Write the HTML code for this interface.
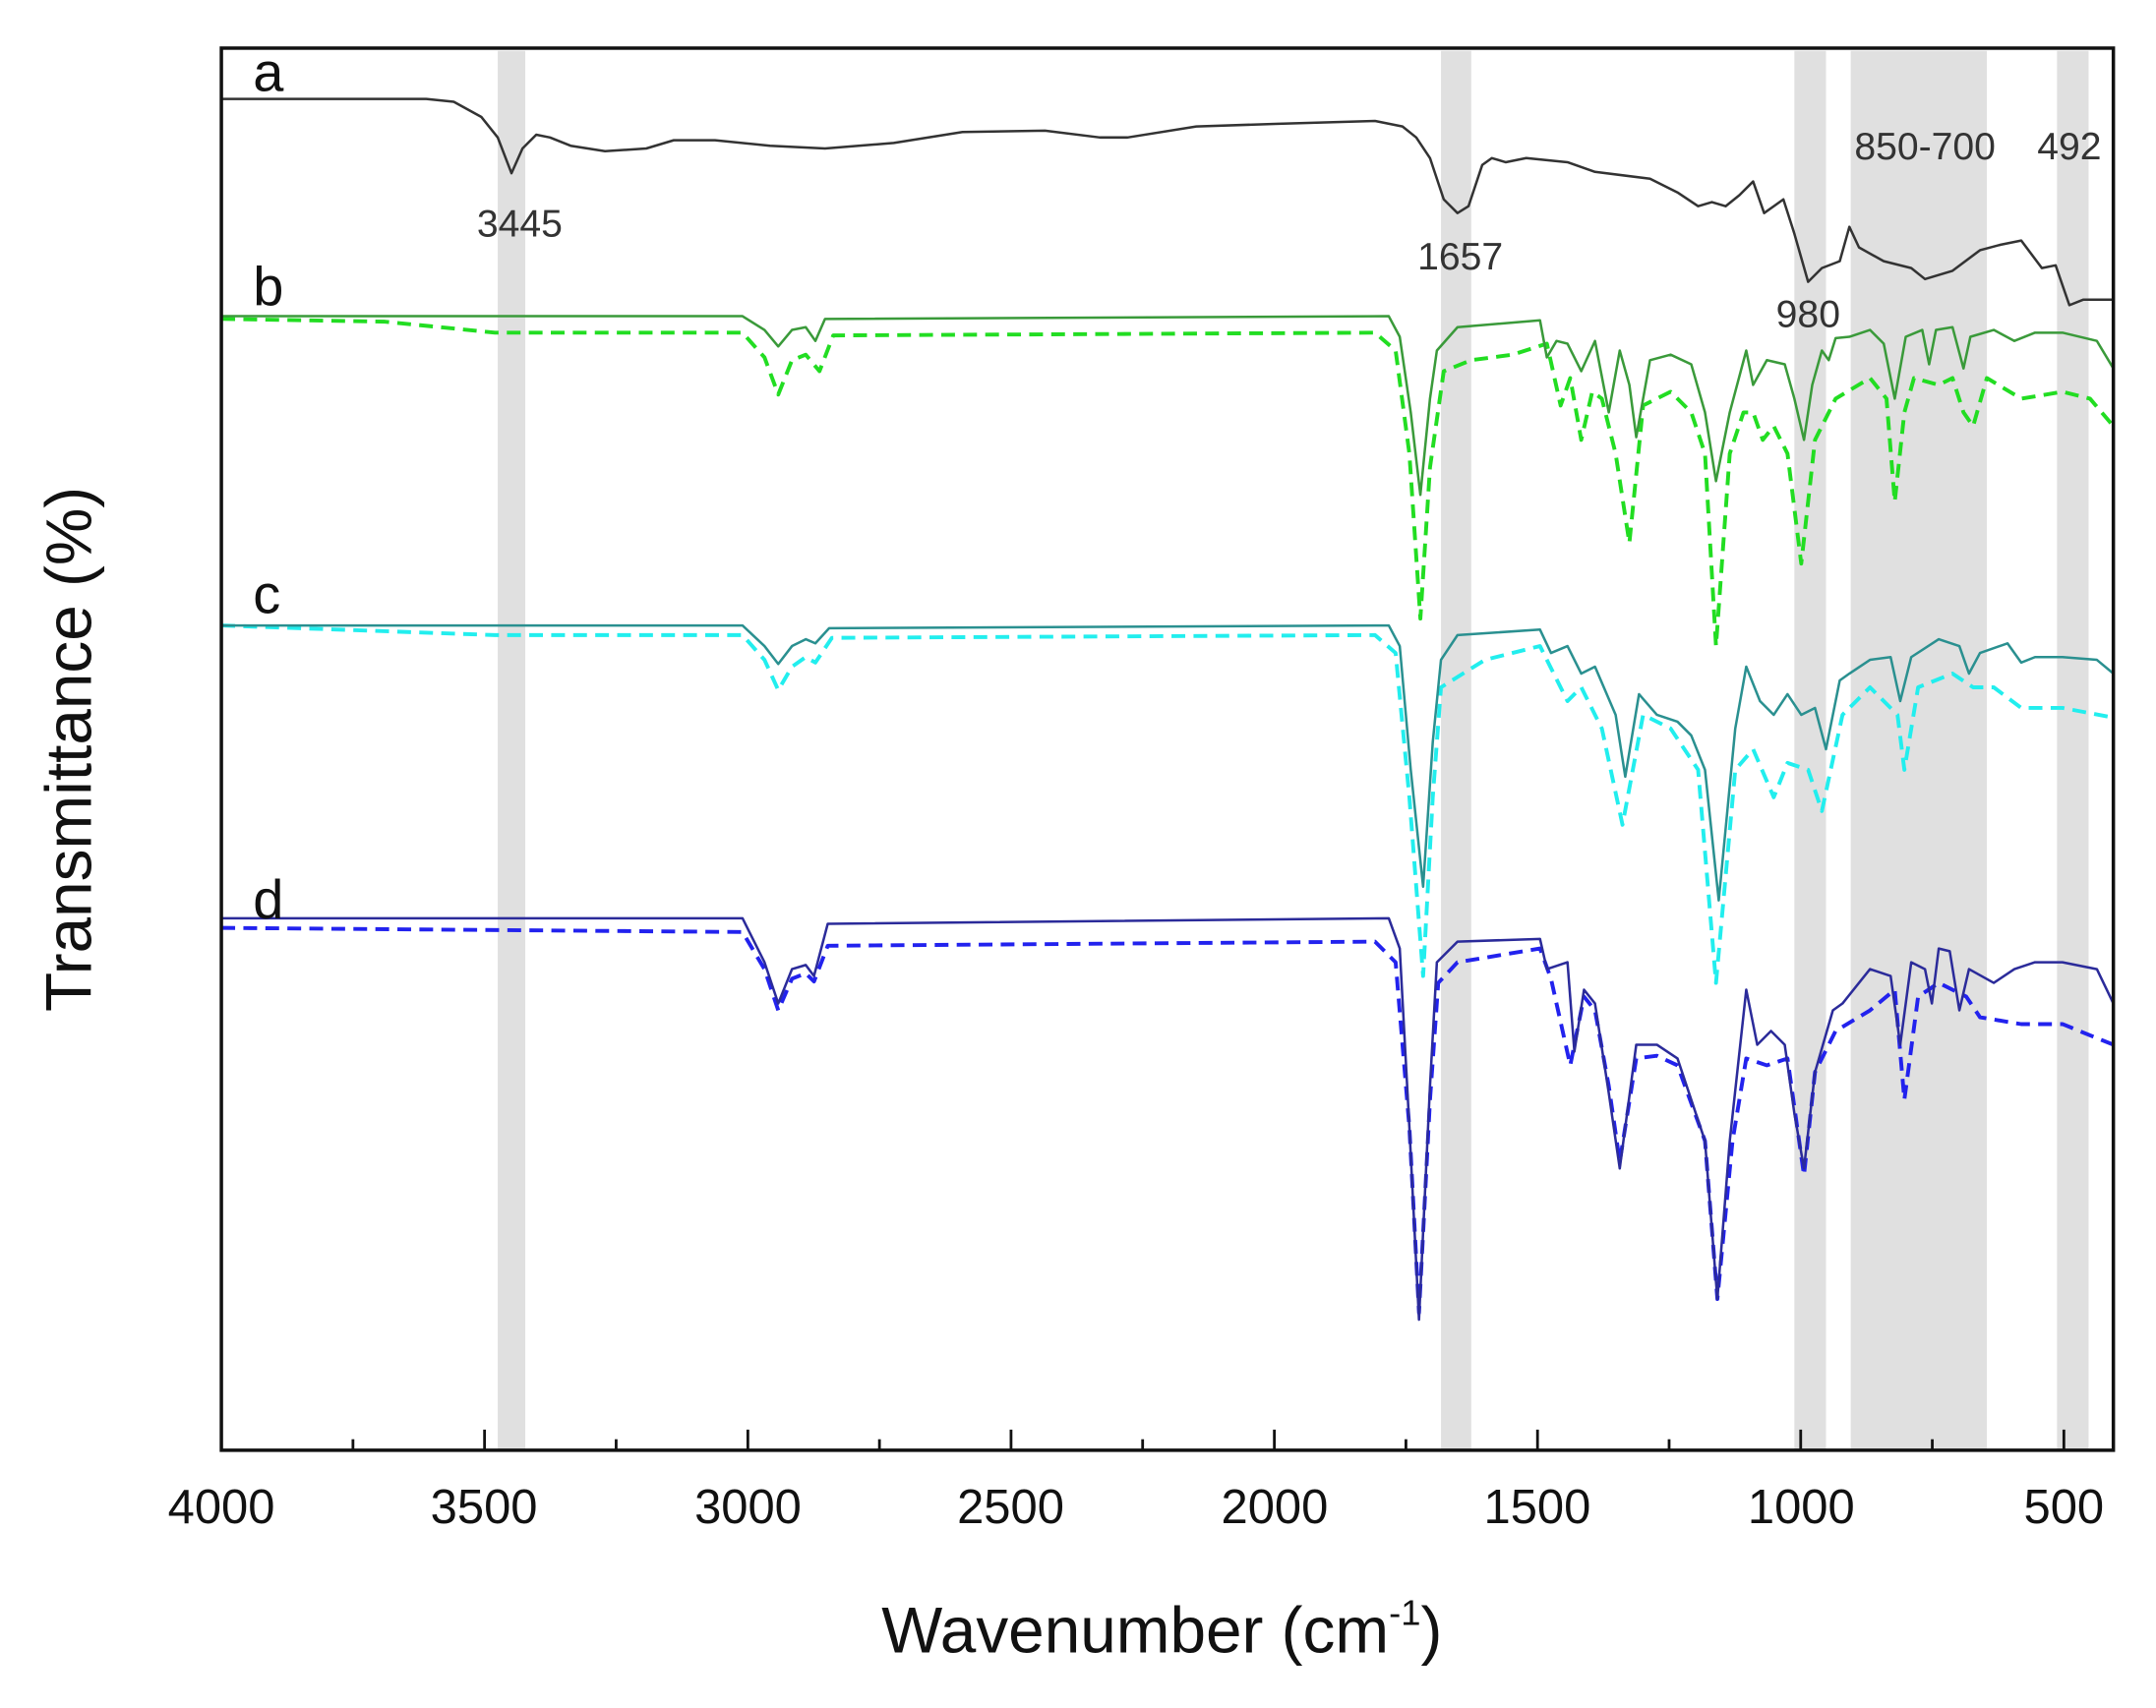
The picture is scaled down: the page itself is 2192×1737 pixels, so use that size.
<!DOCTYPE html>
<html><head><meta charset="utf-8"><style>html,body{margin:0;padding:0;background:#fff}svg{display:block}</style></head>
<body>
<svg width="2192" height="1737" viewBox="0 0 1568 1242.5" xmlns="http://www.w3.org/2000/svg" font-family="Liberation Sans, sans-serif">
<rect width="1570" height="1245" fill="#fff"/>
<g fill="#e0e0e0">
<rect x="362" y="37" width="20" height="1017"/>
<rect x="1048" y="37" width="22" height="1017"/>
<rect x="1305" y="37" width="23" height="1017"/>
<rect x="1346" y="37" width="99" height="1017"/>
<rect x="1496" y="37" width="23" height="1017"/>
</g>
<g fill="none" stroke-linejoin="round">
<polyline stroke="#333" stroke-width="1.8" points="161,72 310,72 330,74 350,85 362,100 372,126 380,108 390,98 400,100 415,106 440,110 470,108 490,102 520,102 560,106 600,108 650,104 700,96 760,95 800,100 820,100 870,92 930,90 1000,88 1020,92 1030,100 1040,115 1050,145 1060,155 1068,150 1078,120 1085,115 1095,118 1110,115 1140,118 1160,125 1200,130 1220,140 1235,150 1245,147 1255,150 1265,142 1275,132 1283,155 1290,150 1297,145 1305,170 1315,205 1325,195 1338,190 1345,165 1352,180 1370,190 1390,195 1400,203 1420,197 1440,182 1455,178 1470,175 1485,195 1495,193 1505,222 1515,218 1537,218"/>
<polyline stroke="#22dd22" stroke-width="2.8" stroke-dasharray="10,6" points="161,232 280,234 360,242 540,242 556,260 566,287 576,262 586,258 596,270 606,244 1000,242 1015,255 1025,330 1033,450 1040,340 1050,270 1070,262 1100,258 1125,250 1135,295 1142,275 1150,320 1158,285 1165,290 1175,330 1185,395 1195,295 1205,290 1215,285 1230,300 1240,330 1248,470 1258,330 1268,300 1275,300 1282,320 1290,310 1300,330 1310,410 1320,320 1335,290 1360,275 1372,290 1378,365 1385,300 1392,275 1410,280 1420,275 1428,300 1435,310 1445,275 1470,290 1500,285 1520,290 1537,310"/>
<polyline stroke="#3a9a3a" stroke-width="1.8" points="161,230 540,230 556,240 566,252 576,240 586,238 593,248 600,232 1010,230 1018,245 1026,300 1033,360 1040,290 1045,255 1060,238 1120,233 1125,260 1132,248 1140,250 1150,270 1160,248 1170,300 1178,255 1185,280 1190,318 1200,262 1215,258 1230,265 1240,300 1248,350 1258,300 1270,255 1275,280 1285,262 1298,265 1305,290 1312,320 1318,280 1325,255 1330,262 1335,246 1345,245 1360,240 1370,250 1378,290 1386,245 1398,240 1403,265 1408,240 1420,238 1428,268 1433,245 1450,240 1465,248 1480,242 1500,242 1525,248 1537,268"/>
<polyline stroke="#22eeee" stroke-width="2.8" stroke-dasharray="10,6" points="161,455 360,462 540,462 556,480 566,502 576,485 586,478 593,482 605,464 1000,462 1015,475 1025,580 1035,710 1042,580 1048,500 1080,480 1120,470 1130,490 1140,510 1150,500 1165,530 1180,600 1195,520 1215,530 1235,560 1248,715 1262,560 1275,545 1290,580 1300,555 1315,560 1325,590 1340,520 1360,500 1380,520 1385,560 1395,500 1420,490 1435,500 1450,500 1470,515 1500,515 1537,522"/>
<polyline stroke="#2a9090" stroke-width="1.8" points="161,455 540,455 556,470 566,483 576,470 586,465 593,468 603,457 1010,455 1018,470 1026,560 1035,645 1042,540 1048,480 1060,462 1120,458 1128,475 1140,470 1150,490 1160,485 1175,520 1182,565 1192,505 1205,520 1220,525 1230,535 1240,560 1250,655 1262,530 1270,485 1280,510 1290,520 1300,505 1310,520 1320,515 1328,545 1338,495 1345,490 1360,480 1375,478 1382,510 1390,478 1410,465 1425,470 1432,490 1440,475 1460,468 1470,482 1480,478 1500,478 1525,480 1537,490"/>
<polyline stroke="#2222ee" stroke-width="2.8" stroke-dasharray="10,6" points="161,675 540,678 556,705 566,735 576,712 586,708 592,714 602,688 1000,685 1015,700 1025,820 1032,955 1040,800 1046,715 1060,700 1120,690 1128,712 1142,775 1152,725 1160,735 1170,790 1178,845 1190,770 1205,768 1220,775 1240,830 1249,945 1260,830 1270,770 1285,775 1300,770 1312,855 1320,780 1335,750 1360,735 1378,720 1385,800 1395,725 1410,715 1430,725 1440,740 1470,745 1500,745 1537,760"/>
<polyline stroke="#2b2b9a" stroke-width="1.8" points="161,668 540,668 556,700 566,730 576,705 586,702 592,710 602,672 1010,668 1018,690 1025,820 1032,960 1040,790 1045,700 1060,685 1120,683 1125,705 1140,700 1145,765 1152,720 1160,730 1170,795 1178,850 1190,760 1205,760 1220,770 1240,830 1249,945 1258,830 1270,720 1278,760 1288,750 1298,760 1305,810 1312,850 1320,780 1333,735 1340,730 1360,705 1375,710 1382,760 1390,700 1400,705 1405,730 1410,690 1418,692 1425,735 1432,705 1450,715 1465,705 1480,700 1500,700 1525,705 1537,730"/>
</g>
<rect x="161" y="35" width="1376" height="1020" fill="none" stroke="#111" stroke-width="2.5"/>
<g stroke="#111" stroke-width="2">
<line x1="352.4" y1="1055" x2="352.4" y2="1040"/><line x1="543.9" y1="1055" x2="543.9" y2="1040"/><line x1="735.3" y1="1055" x2="735.3" y2="1040"/><line x1="926.8" y1="1055" x2="926.8" y2="1040"/><line x1="1118.2" y1="1055" x2="1118.2" y2="1040"/><line x1="1309.6" y1="1055" x2="1309.6" y2="1040"/><line x1="1501" y1="1055" x2="1501" y2="1040"/>
<line x1="256.7" y1="1055" x2="256.7" y2="1047"/><line x1="448.1" y1="1055" x2="448.1" y2="1047"/><line x1="639.6" y1="1055" x2="639.6" y2="1047"/><line x1="831" y1="1055" x2="831" y2="1047"/><line x1="1022.5" y1="1055" x2="1022.5" y2="1047"/><line x1="1213.9" y1="1055" x2="1213.9" y2="1047"/><line x1="1405.3" y1="1055" x2="1405.3" y2="1047"/>
</g>
<g font-size="35" fill="#111" text-anchor="middle">
<text x="161" y="1108">4000</text><text x="352" y="1108">3500</text><text x="544" y="1108">3000</text><text x="735" y="1108">2500</text><text x="927" y="1108">2000</text><text x="1118" y="1108">1500</text><text x="1310" y="1108">1000</text><text x="1501" y="1108">500</text>
</g>
<g font-size="40" fill="#111">
<text x="184" y="66">a</text><text x="184" y="222">b</text><text x="184" y="446">c</text><text x="184" y="668">d</text>
</g>
<g font-size="28" fill="#333" text-anchor="middle">
<text x="378" y="172">3445</text><text x="1062" y="196">1657</text><text x="1315" y="238">980</text><text x="1400" y="116">850-700</text><text x="1505" y="116">492</text>
</g>
<text x="845" y="1202" font-size="47" text-anchor="middle" fill="#111">Wavenumber (cm<tspan font-size="26" dy="-20">-1</tspan><tspan dy="20">)</tspan></text>
<text transform="translate(66,545) rotate(-90)" font-size="47" text-anchor="middle" fill="#111">Transmittance (%)</text>
</svg>
</body></html>
